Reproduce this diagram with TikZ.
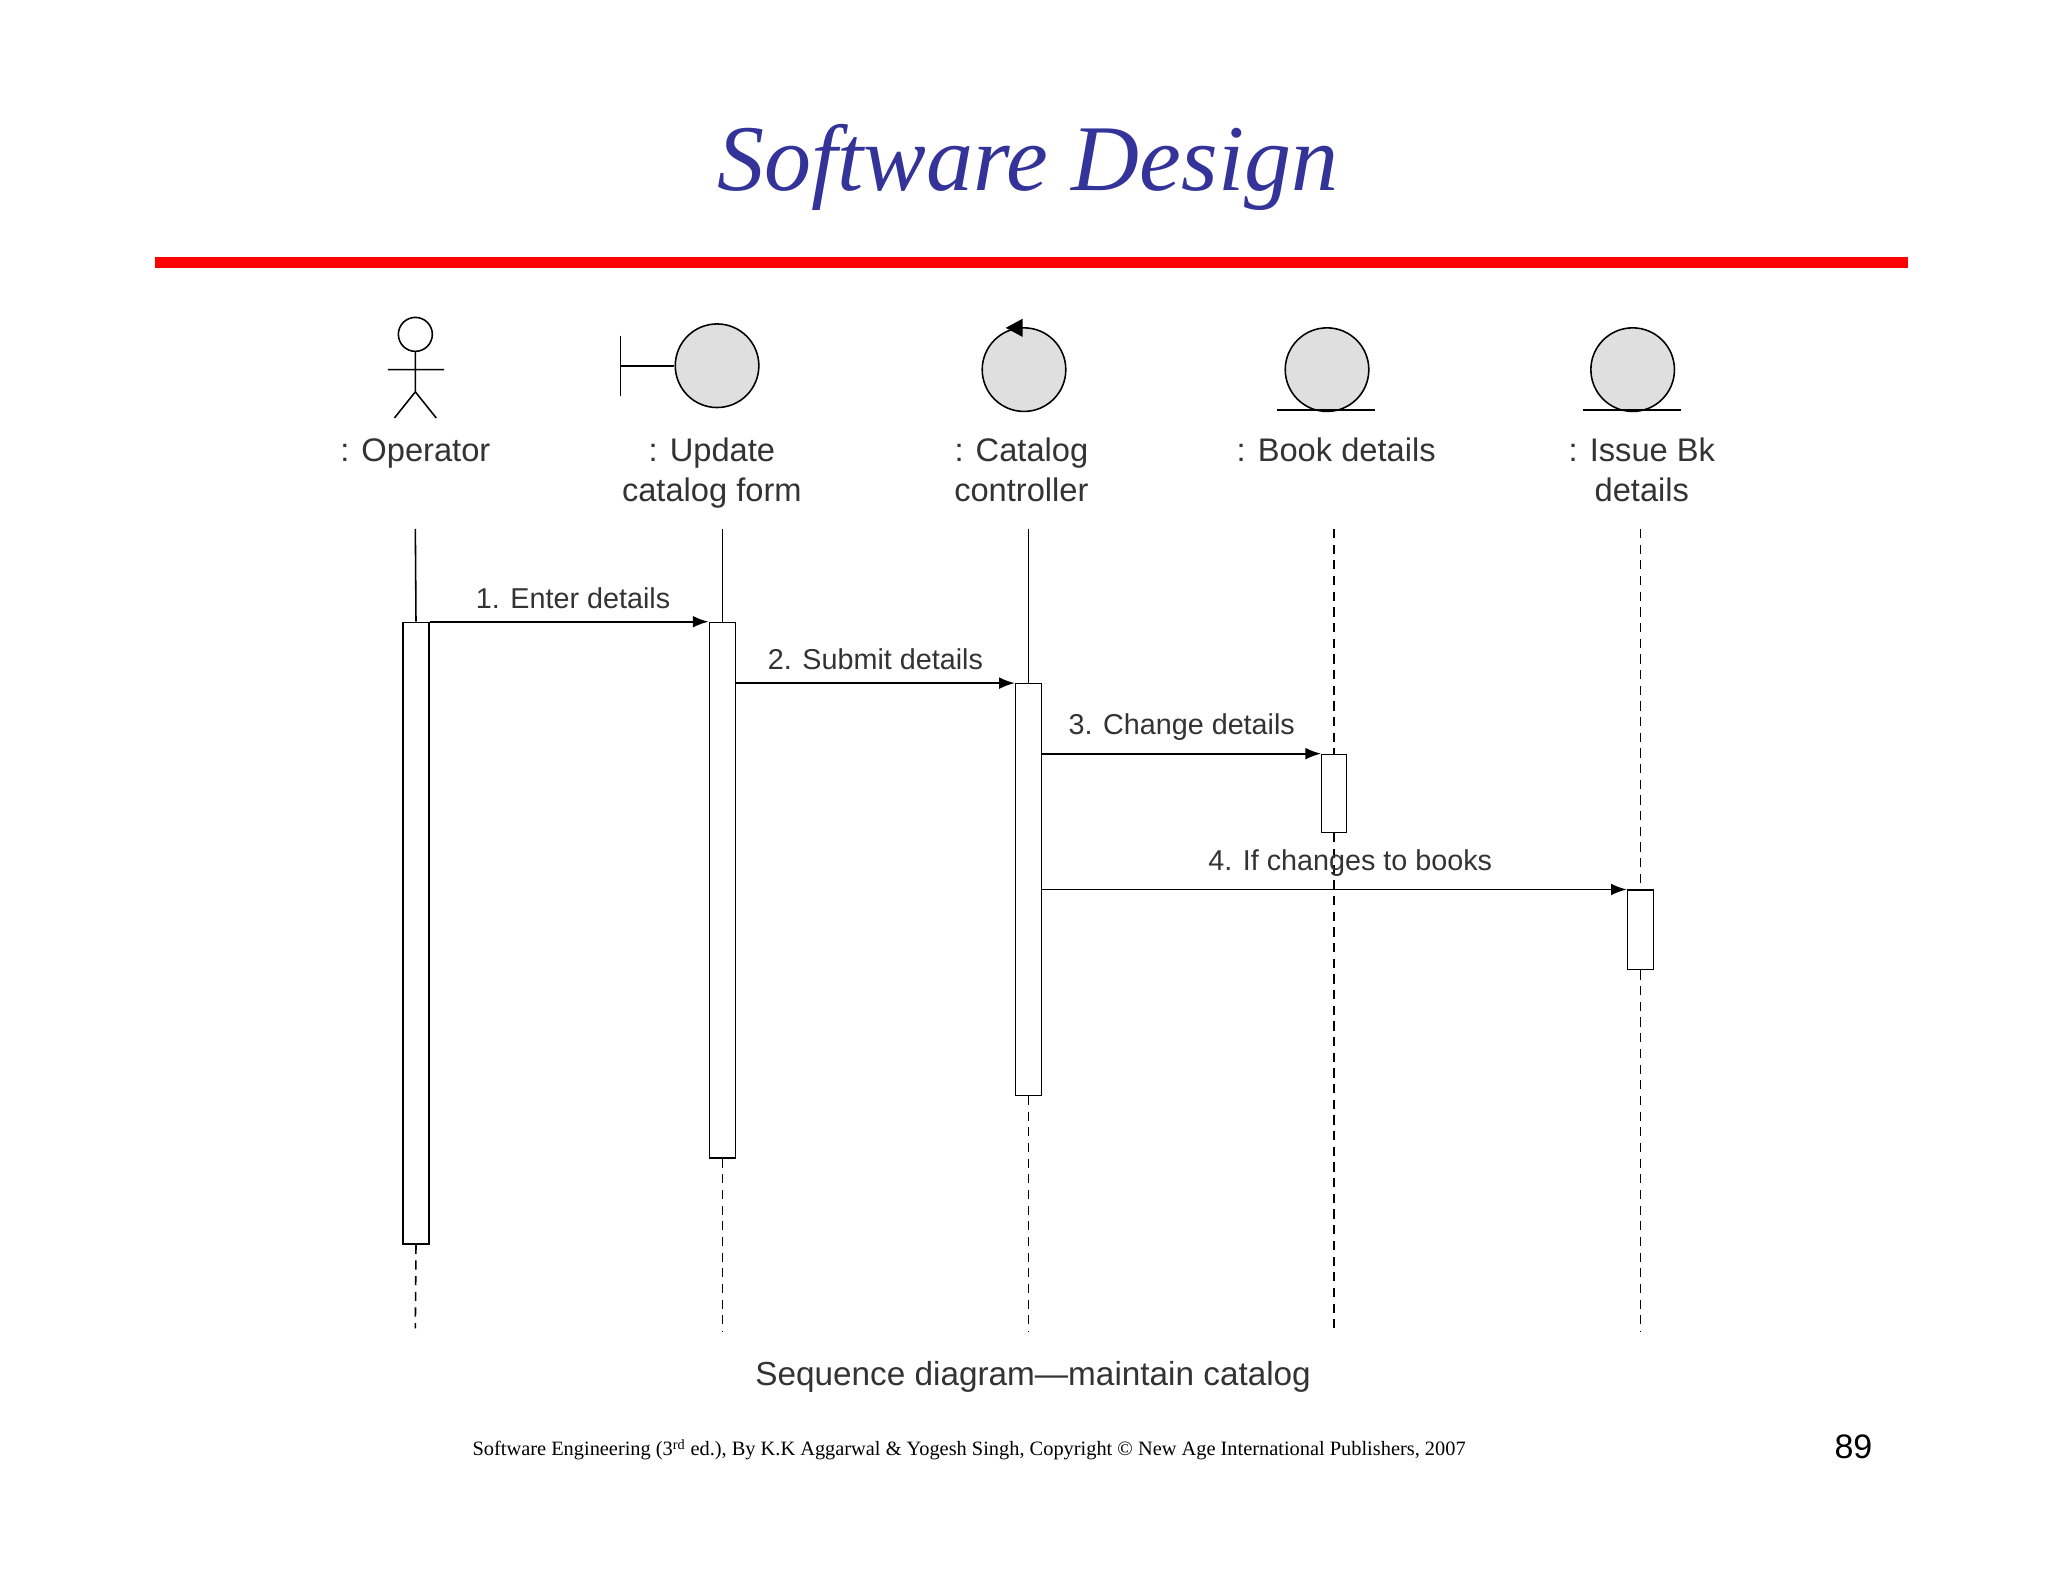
\documentclass[tikz,border=0pt]{standalone}
\usepackage{fontspec}
\setmainfont{Liberation Sans}
\newfontfamily\serifft{Liberation Serif}
\usetikzlibrary{arrows.meta}
\begin{document}
\begin{tikzpicture}[x=1pt,y=-1pt,
  obj/.style={circle,draw,fill=gray!25,minimum size=64pt,inner sep=0pt,line width=1.2pt},
  lbl/.style={font=\fontsize{25}{30}\selectfont,align=center,text=black!80,anchor=north},
  msg/.style={font=\fontsize{22}{26}\selectfont,text=black!80,anchor=south},
  act/.style={draw,fill=white,line width=1pt,minimum width=20pt,inner sep=0pt},
  life/.style={line width=1.2pt},
  dl/.style={line width=1.2pt,dash pattern=on 7pt off 5pt},
  arr/.style={line width=1.4pt,-{Latex[length=12pt,width=9pt]}}]
\useasboundingbox (0,0) rectangle (1568,1211);
\node[font=\serifft\itshape\fontsize{72}{76}\selectfont,text={rgb,255:red,51;green,51;blue,153}] (title) at (787,128) {Software Design};
\draw[red,line width=8pt] (119,201) coordinate(r1) -- (1461,201) coordinate(r2);
% actor
\draw[line width=1.2pt] (318,256) circle (13);
\draw[line width=1.2pt] (318,269) -- (318,300) (297,283) -- (340,283) (302,320) -- (318,300) -- (334,320);
% boundary
\node[obj] (ub) at (549,280) {};
\draw[line width=1.2pt] (475,257) -- (475,303) (475,280) -- (ub.west);
% control
\node[obj] (cc) at (784,283) {};
\fill (770,251) -- (783,244) -- (783,258) -- cycle;
% entities
\node[obj] (bd) at (1016,283) {};
\draw[line width=1.2pt] (978,314) -- (1053,314);
\node[obj] (ib) at (1250,283) {};
\draw[line width=1.2pt] (1212,314) -- (1287,314);
% labels
\node[lbl] (l1) at (318,332) {: Operator};
\node[lbl] (l2) at (545,332) {: Update\\catalog form};
\node[lbl] (l3) at (782,332) {: Catalog\\controller};
\node[lbl] (l4) at (1023,332) {: Book details};
\node[lbl] (l5) at (1257,332) {: Issue Bk\\details};
% activations
\node[act,minimum height=476pt,anchor=north] (a1) at (318.5,476) {};
\node[act,minimum height=410pt,anchor=north] (a2) at (553,476) {};
\node[act,minimum height=315pt,anchor=north] (a3) at (787.5,523) {};
\node[act,minimum height=60pt,anchor=north,minimum width=19pt] (a4) at (1021.5,577) {};
\node[act,minimum height=61pt,anchor=north] (a5) at (1256,681) {};
% lifelines
\draw[life] (318,405) -- (a1.north);
\draw[dl] (a1.south) -- (318,1017);
\draw[life] (553,405) -- (a2.north);
\draw[dl] (a2.south) -- (553,1020);
\draw[life] (787.5,405) -- (a3.north);
\draw[dl] (a3.south) -- (787.5,1020);
\draw[dl] (1021.5,405) -- (a4.north);
\draw[dl] (a4.south) -- (1021.5,1020);
\draw[dl] (1256,405) -- (a5.north);
\draw[dl] (a5.south) -- (1256,1020);
% messages
\draw[arr] (a1.north east) -- (a2.north west) node[msg,midway,above=6pt,xshift=3pt] {1. Enter details};
\draw[arr] (a2.east |- a3.north) -- (a3.north west) node[msg,midway,above=6pt] {2. Submit details};
\draw[arr] (a3.east |- a4.north) -- (a4.north west) node[msg,midway,above=6pt] {3. Change details};
\draw[arr] (a3.east |- a5.north) -- (a5.north west) node[msg,midway,above=6pt,xshift=12pt] {4. If changes to books};
\node[font=\fontsize{25.5}{30}\selectfont,text=black!80] (cap) at (791,1054) {Sequence diagram—maintain catalog};
\node[font=\serifft\fontsize{15.6}{18}\selectfont] (foot) at (742,1110) {Software Engineering (3\textsuperscript{rd} ed.), By K.K Aggarwal \& Yogesh Singh, Copyright © New Age International Publishers, 2007};
\node[font=\fontsize{26}{30}\selectfont] (pg) at (1419,1108) {89};
\end{tikzpicture}
\end{document}
